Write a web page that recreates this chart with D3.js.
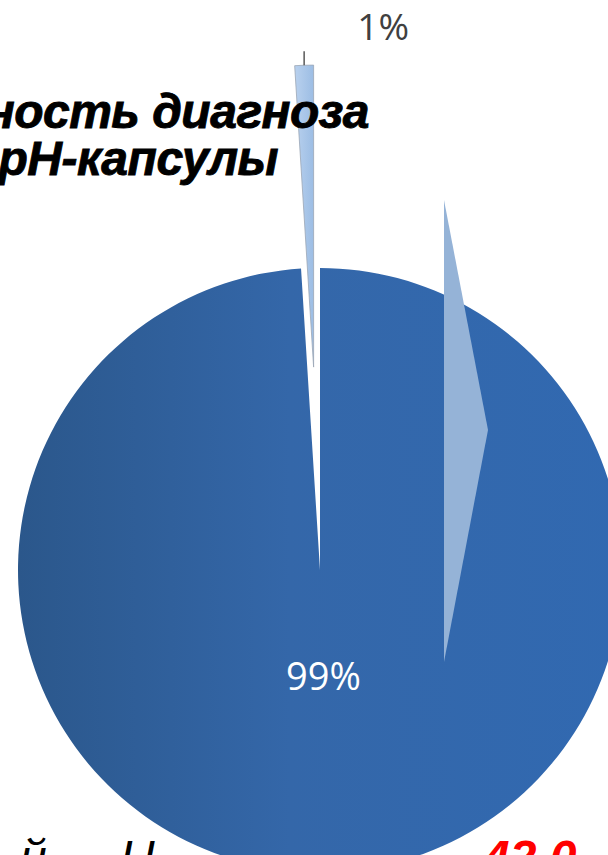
<!DOCTYPE html>
<html>
<head>
<meta charset="utf-8">
<script src="https://cdn.jsdelivr.net/npm/d3@7"></script>
<style>
    html, body { margin: 0; padding: 0; background: #fff; }
    svg { display: block; }
</style>
</head>
<body>
<svg id="chart" width="608" height="855"></svg>
<script>
(function (d3) {
    'use strict';

    // chart data
    var categories = ['Диагноз подтверждён', 'Диагноз не подтверждён'],
        values = [99, 1],
        valueLabels = ['99%', '1%'],
        titleLines = ['ность диагноза', 'pH-капсулы'],
        footerParts = ['й.', 'Н', '42.0'],
        // decorative slide arrow (chevron) to the right of the pie
        chevronPoints = [[444, 200], [488, 430], [444, 662]];

    var CX = 320,
        CY = 570,
        RADIUS = 302,
        EXPLODE = 203,
        svg = d3.select('#chart'),
        defs = svg.append('defs'),
        grad,
        pie,
        arc,
        labelArc,
        slices,
        chart;

    grad = defs.append('linearGradient')
        .attr('id', 'bigSlice')
        .attr('gradientUnits', 'userSpaceOnUse')
        .attr('x1', -RADIUS).attr('y1', 0)
        .attr('x2', RADIUS).attr('y2', 0);
    grad.append('stop').attr('offset', '0%').attr('stop-color', '#2b578b');
    grad.append('stop').attr('offset', '45%').attr('stop-color', '#3467a9');
    grad.append('stop').attr('offset', '100%').attr('stop-color', '#3169b1');

    grad = defs.append('linearGradient')
        .attr('id', 'smallSlice')
        .attr('x1', '0%').attr('y1', '0%')
        .attr('x2', '100%').attr('y2', '0%');
    grad.append('stop').attr('offset', '0%').attr('stop-color', '#b9d1ee');
    grad.append('stop').attr('offset', '100%').attr('stop-color', '#9cbde4');

    // footer text sits behind the pie
    svg.selectAll('text.footer')
        .data(footerParts)
        .enter()
        .append('text')
        .attr('class', 'footer')
        .attr('x', function (d, i) { return [20, 120, 483][i]; })
        .attr('y', 874)
        .attr('font-family', 'Liberation Sans, Arial, sans-serif')
        .attr('font-style', 'italic')
        .attr('font-weight', function (d, i) { return i === 2 ? 'bold' : 'normal'; })
        .attr('font-size', 48)
        .attr('fill', function (d, i) { return i === 2 ? '#ff0000' : '#000'; })
        .text(function (d) { return d; });

    pie = d3.pie().sort(null).value(function (d) { return d; });
    arc = d3.arc().innerRadius(0).outerRadius(RADIUS);
    labelArc = d3.arc().innerRadius(RADIUS * 0.355).outerRadius(RADIUS * 0.355);

    chart = svg.append('g').attr('transform', 'translate(' + CX + ',' + CY + ')');

    function offset(d, i) {
        var mid = (d.startAngle + d.endAngle) / 2,
            dist = i === 1 ? EXPLODE : 0;
        return [Math.sin(mid) * dist, -Math.cos(mid) * dist];
    }

    slices = chart.selectAll('g.slice')
        .data(pie(values))
        .enter()
        .append('g')
        .attr('class', 'slice')
        .attr('transform', function (d, i) {
            var o = offset(d, i);
            return 'translate(' + o[0] + ',' + o[1] + ')';
        });

    slices.append('path')
        .attr('d', arc)
        .attr('fill', function (d, i) { return i === 0 ? 'url(#bigSlice)' : 'url(#smallSlice)'; })
        .attr('stroke', function (d, i) { return i === 0 ? 'none' : '#9aa6b5'; })
        .attr('stroke-width', 0.8)
        .append('title')
        .text(function (d, i) { return categories[i] + ': ' + valueLabels[i]; });

    // inside label for the large slice
    slices.filter(function (d, i) { return i === 0; })
        .append('text')
        .attr('transform', function (d) {
            var c = labelArc.centroid(d);
            return 'translate(' + c[0] + ',' + c[1] + ')';
        })
        .attr('text-anchor', 'middle')
        .attr('dy', '0.35em')
        .attr('font-family', 'Open Sans, sans-serif')
        .attr('font-size', 38)
        .attr('fill', '#fff')
        .text(valueLabels[0]);

    // outside label with leader line for the exploded slice
    slices.filter(function (d, i) { return i === 1; })
        .each(function (d) {
            var g = d3.select(this),
                mid = (d.startAngle + d.endAngle) / 2,
                ox = Math.sin(mid) * RADIUS,
                oy = -Math.cos(mid) * RADIUS;
            g.append('line')
                .attr('x1', ox).attr('y1', oy)
                .attr('x2', ox).attr('y2', oy - 14)
                .attr('stroke', '#595959')
                .attr('stroke-width', 1.5);
            g.append('text')
                .attr('x', ox + 79)
                .attr('y', oy - 25)
                .attr('text-anchor', 'middle')
                .attr('font-family', 'Open Sans, sans-serif')
                .attr('font-size', 37)
                .attr('fill', '#404040')
                .text(valueLabels[1]);
        });

    // slide title drawn over the chart
    svg.selectAll('text.title')
        .data(titleLines)
        .enter()
        .append('text')
        .attr('class', 'title')
        .attr('x', function (d, i) { return i === 0 ? 369 : 278; })
        .attr('y', function (d, i) { return 128 + i * 47; })
        .attr('text-anchor', 'end')
        .attr('font-family', 'Liberation Sans, Arial, sans-serif')
        .attr('font-style', 'italic')
        .attr('font-weight', 'bold')
        .attr('font-size', 48)
        .attr('letter-spacing', -0.5)
        .attr('fill', '#000')
        .attr('stroke', '#000')
        .attr('stroke-width', 0.9)
        .text(function (d) { return d; });

    svg.append('polygon')
        .attr('points', chevronPoints.map(function (p) { return p.join(','); }).join(' '))
        .attr('fill', '#95b3d7');
}(window.d3));
</script>
</body>
</html>
